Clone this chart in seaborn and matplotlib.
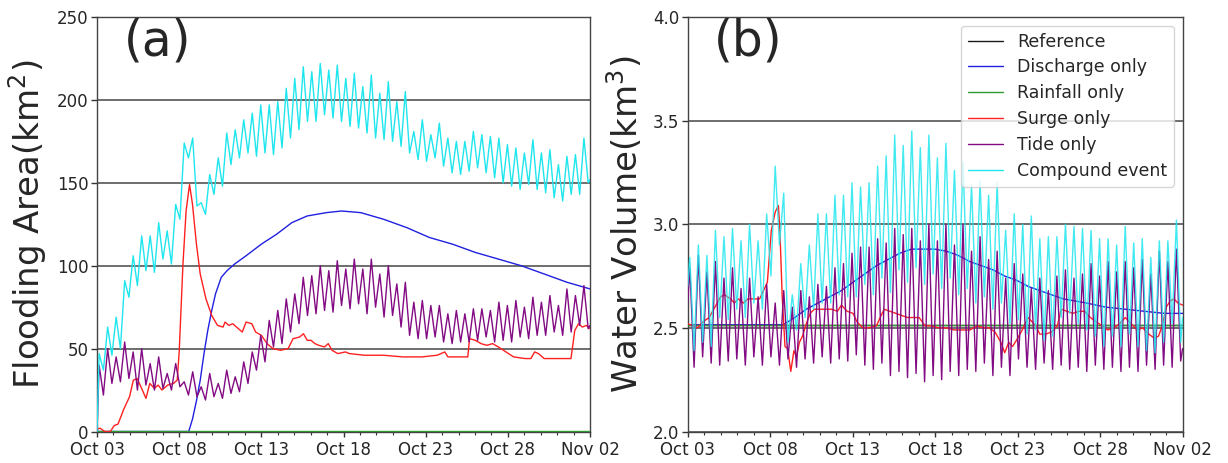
import numpy as np
import pandas as pd
import matplotlib
matplotlib.use("Agg")
import matplotlib.pyplot as plt
import matplotlib.dates as mdates
import matplotlib.ticker as mticker
import seaborn as sns

# ---------------------------------------------------------------------------
# Time axis
# ---------------------------------------------------------------------------
START = pd.Timestamp("2018-10-03")
END = pd.Timestamp("2018-11-02")
SPAN_DAYS = 30.0
FIRST_HIGH = 0.13          # day of the first high water
HALF_TIDE = 0.25875        # 6.21 h between high and low water (days)

scenarios = ["Reference", "Discharge only", "Rainfall only",
             "Surge only", "Tide only", "Compound event"]
palette = {"Reference": "#1a1a1a", "Discharge only": "#2020e0",
           "Rainfall only": "#2f9a2f", "Surge only": "#ff2020",
           "Tide only": "#820a82", "Compound event": "#1fe6ee"}

# ---------------------------------------------------------------------------
# (a) Flooding area, km^2
# ---------------------------------------------------------------------------
ref_a_t = [0.0, 30.0]
ref_a_v = [0.0, 0.0]
rain_a_t = [0.0, 30.0]
rain_a_v = [0.3, 0.3]

discharge_a_t = [0.0, 5.58, 5.81, 6.05, 6.28, 6.51, 6.74, 6.98, 7.21, 7.56, 7.91,
                 8.37, 9.07, 10.0, 10.93, 11.86, 12.79, 13.95, 14.88, 16.05, 17.44,
                 18.84, 20.23, 21.63, 23.02, 24.42, 25.81, 27.21, 28.60, 30.0]
discharge_a_v = [0, 0, 7.5, 18.5, 31, 47, 61, 73, 83, 93, 97,
                 101, 106, 113, 119, 126, 130, 132, 133, 132, 128,
                 123, 117, 113, 108, 104, 100, 95, 90, 86]

surge_a_t = [0.0, 0.19, 0.47, 0.81, 1.05, 1.28, 1.63, 1.98, 2.21, 2.44, 2.67, 2.98,
             3.21, 3.49, 3.72, 3.95, 4.30, 4.65, 4.88, 5.00, 5.23, 5.42, 5.63, 5.81,
             6.05, 6.28, 6.63, 6.98, 7.33, 7.67, 7.79, 8.02, 8.26, 8.49, 8.84, 9.07,
             9.42, 9.65, 10.0, 10.35, 10.70, 11.16, 11.63, 11.93, 12.33, 12.56, 12.79,
             13.02, 13.26, 13.49, 13.84, 14.07, 14.30, 14.65, 15.12, 15.35, 16.28,
             17.44, 18.60, 19.77, 20.70, 20.93, 21.16, 21.35, 22.56, 22.67, 23.02,
             23.37, 23.72, 24.07, 24.42, 24.88, 25.35, 26.05, 26.40, 26.63, 26.86,
             27.21, 28.84, 29.07, 29.30, 29.53, 29.77, 30.0]
surge_a_v = [1.5, 2, 0, 0, 3.6, 4.5, 13.5, 21, 31, 32, 27, 20,
             29, 26, 28, 25, 28, 29, 31, 48, 101, 133, 149, 137,
             113, 95, 80, 70, 64, 63, 66, 64, 65, 63, 60, 66,
             65, 60, 58, 53, 50, 49, 50, 56, 57, 59, 55,
             55, 53, 52, 51, 53, 49, 47, 48, 47, 46,
             46, 45, 45, 46, 47, 48, 45, 45, 56, 55,
             53, 52, 53, 51, 48, 45, 44, 44, 48, 47,
             44, 44, 61, 65, 63, 64, 62]

tide_a_high = [40, 50, 45, 54, 48, 50, 41, 45, 35, 41, 30, 36, 27, 35, 29, 37, 33, 42,
               48, 58, 67, 73, 80, 83, 93, 94, 100, 97, 103, 98, 104, 98, 104, 95,
               100, 89, 90, 78, 79, 76, 76, 71, 73, 71, 74, 74, 73, 78, 76, 79, 75,
               81, 78, 82, 76, 86, 82, 88]
tide_a_low = [22, 29, 30, 32, 25, 28, 25, 26, 25, 27, 22, 21, 19, 21, 20, 23, 24, 29,
              37, 42, 51, 53, 60, 65, 70, 71, 73, 72, 76, 74, 77, 71, 75, 69, 70, 63,
              58, 56, 56, 57, 54, 53, 54, 54, 55, 57, 54, 55, 54, 57, 56, 58, 58, 60,
              58, 60, 64, 62]
tide_a_ends = (0.0, 64.0)

compound_a_high = [47, 63, 69, 91, 106, 118, 118, 126, 121, 137, 174, 177, 138, 155,
                   165, 180, 182, 188, 192, 197, 197, 199, 207, 213, 220, 217, 222,
                   218, 221, 213, 216, 208, 215, 204, 211, 199, 205, 181, 188, 179,
                   186, 177, 175, 175, 181, 179, 178, 177, 173, 171, 168, 176, 168,
                   170, 161, 166, 167, 177]
compound_a_low = [37, 46, 50, 81, 88, 97, 96, 104, 101, 128, 165, 136, 131, 143, 148,
                  161, 165, 168, 166, 168, 167, 171, 177, 182, 187, 187, 191, 189, 187,
                  184, 183, 180, 177, 176, 175, 172, 168, 164, 163, 165, 160, 156, 155,
                  157, 159, 156, 153, 150, 148, 146, 149, 146, 144, 141, 139, 143, 143,
                  150]
compound_a_ends = (0.0, 152.0)

# ---------------------------------------------------------------------------
# (b) Water volume, km^3
# ---------------------------------------------------------------------------
ref_b_t = [0.0, 30.0]
ref_b_v = [2.515, 2.515]
rain_b_t = [0.0, 30.0]
rain_b_v = [2.515, 2.515]

discharge_b_t = [0.0, 5.78, 6.49, 7.19, 7.90, 8.61, 9.32, 10.02, 10.73, 11.44, 12.15,
                 12.85, 13.56, 14.27, 14.98, 15.68, 16.39, 17.10, 17.81, 18.51, 19.22,
                 19.93, 20.64, 21.34, 22.05, 22.76, 23.47, 24.17, 25.35, 26.53, 27.71,
                 28.89, 30.0]
discharge_b_v = [2.515, 2.515, 2.55, 2.59, 2.62, 2.65, 2.68, 2.72, 2.76, 2.80, 2.83,
                 2.86, 2.88, 2.88, 2.88, 2.87, 2.85, 2.82, 2.80, 2.78, 2.75,
                 2.73, 2.70, 2.68, 2.66, 2.64, 2.63, 2.62, 2.60, 2.59, 2.58,
                 2.57, 2.57]

surge_b_t = [0.0, 0.35, 0.59, 0.94, 1.30, 1.65, 2.00, 2.24, 2.59, 2.83, 3.07, 3.37,
             3.66, 4.01, 4.36, 4.60, 4.83, 5.07, 5.31, 5.50, 5.59, 5.73, 5.90, 6.06,
             6.25, 6.44, 6.60, 6.77, 6.96, 7.19, 7.43, 7.67, 8.02, 8.37, 8.73, 9.08,
             9.32, 9.67, 10.02, 10.26, 10.61, 10.97, 11.44, 11.67, 11.91, 12.26, 12.62,
             12.97, 13.33, 13.68, 14.03, 14.39, 14.74, 15.21, 15.68, 16.16, 16.63,
             17.10, 17.57, 17.92, 18.28, 18.63, 18.99, 19.22, 19.46, 19.69, 19.93,
             20.28, 20.64, 20.87, 21.11, 21.34, 21.70, 22.05, 22.41, 22.64, 23.00,
             23.35, 23.70, 24.06, 24.41, 24.76, 25.12, 25.47, 25.83, 26.18, 26.53,
             26.89, 27.24, 27.59, 27.95, 28.30, 28.54, 28.77, 29.01, 29.25, 29.48,
             29.72, 30.0]
surge_b_v = [2.52, 2.51, 2.50, 2.53, 2.55, 2.60, 2.65, 2.66, 2.64, 2.62, 2.64, 2.62,
             2.64, 2.64, 2.64, 2.68, 2.72, 2.97, 3.06, 3.09, 2.97, 2.65, 2.41, 2.40,
             2.29, 2.39, 2.36, 2.43, 2.46, 2.52, 2.57, 2.59, 2.59, 2.59, 2.59, 2.58,
             2.61, 2.58, 2.57, 2.53, 2.50, 2.50, 2.51, 2.55, 2.59, 2.58, 2.57,
             2.56, 2.55, 2.55, 2.55, 2.51, 2.51, 2.50, 2.50, 2.49, 2.49,
             2.49, 2.51, 2.50, 2.50, 2.48, 2.43, 2.38, 2.43, 2.41, 2.44,
             2.49, 2.55, 2.53, 2.51, 2.47, 2.47, 2.48, 2.51, 2.59, 2.58,
             2.57, 2.58, 2.58, 2.55, 2.53, 2.51, 2.49, 2.50, 2.52, 2.55,
             2.52, 2.49, 2.50, 2.47, 2.45, 2.46, 2.51, 2.60, 2.63, 2.64,
             2.62, 2.61]

tide_b_high = [2.79, 2.85, 2.77, 2.82, 2.74, 2.79, 2.69, 2.74, 2.65, 2.71, 2.62, 2.68,
               2.60, 2.68, 2.65, 2.71, 2.70, 2.79, 2.81, 2.86, 2.89, 2.89, 2.93, 2.91,
               2.98, 2.95, 2.98, 2.92, 3.00, 2.92, 3.00, 2.90, 3.00, 2.87, 2.94, 2.83,
               2.87, 2.74, 2.81, 2.76, 2.69, 2.74, 2.68, 2.75, 2.78, 2.74, 2.76, 2.81,
               2.75, 2.82, 2.77, 2.82, 2.79, 2.83, 2.76, 2.87, 2.82, 2.88]
tide_b_low = [2.31, 2.36, 2.33, 2.32, 2.34, 2.35, 2.32, 2.36, 2.32, 2.36, 2.32, 2.35,
              2.31, 2.35, 2.33, 2.36, 2.33, 2.35, 2.34, 2.37, 2.32, 2.30, 2.33, 2.27,
              2.29, 2.26, 2.28, 2.24, 2.27, 2.25, 2.29, 2.27, 2.30, 2.29, 2.33, 2.27,
              2.31, 2.27, 2.35, 2.31, 2.30, 2.33, 2.30, 2.32, 2.30, 2.31, 2.29, 2.32,
              2.30, 2.31, 2.29, 2.31, 2.29, 2.32, 2.30, 2.32, 2.31, 2.34]
tide_b_ends = (2.62, 2.40)

compound_b_high = [2.84, 2.90, 2.85, 2.97, 2.94, 2.98, 2.92, 3.00, 2.92, 3.05, 3.28,
                   3.15, 2.66, 2.81, 2.90, 3.05, 3.05, 3.14, 3.14, 3.20, 3.18, 3.20,
                   3.28, 3.33, 3.43, 3.38, 3.45, 3.37, 3.43, 3.32, 3.39, 3.26, 3.30,
                   3.19, 3.21, 3.14, 3.20, 2.97, 3.05, 3.00, 3.04, 2.93, 2.94, 2.94,
                   3.00, 2.99, 2.98, 2.97, 2.93, 2.93, 2.90, 2.99, 2.91, 2.93, 2.84,
                   2.92, 2.92, 3.02]
compound_b_low = [2.39, 2.43, 2.41, 2.55, 2.54, 2.59, 2.55, 2.62, 2.59, 2.75, 2.90,
                  2.43, 2.49, 2.55, 2.59, 2.62, 2.62, 2.66, 2.65, 2.65, 2.71, 2.66,
                  2.74, 2.67, 2.78, 2.72, 2.79, 2.71, 2.76, 2.69, 2.74, 2.66, 2.69,
                  2.62, 2.65, 2.59, 2.62, 2.52, 2.54, 2.47, 2.49, 2.44, 2.46, 2.55,
                  2.57, 2.52, 2.49, 2.46, 2.41, 2.46, 2.41, 2.47, 2.41, 2.39, 2.38,
                  2.43, 2.52, 2.43]
compound_b_ends = (2.70, 2.55)


def tidal_series(highs, lows, ends):
    """Alternate high / low water values on the semi-diurnal time grid."""
    vals = np.column_stack([highs, lows]).ravel()
    t = np.concatenate([[0.0], FIRST_HIGH + HALF_TIDE * np.arange(vals.size), [SPAN_DAYS]])
    v = np.concatenate([[ends[0]], vals, [ends[1]]])
    return t, v


def panel_frame(series):
    frames = []
    for name, (t, v) in series.items():
        frames.append(pd.DataFrame({
            "time": START + pd.to_timedelta(np.asarray(t, dtype=float), unit="D"),
            "value": np.asarray(v, dtype=float),
            "scenario": name,
        }))
    return pd.concat(frames, ignore_index=True)


df_a = panel_frame({
    "Reference": (ref_a_t, ref_a_v),
    "Discharge only": (discharge_a_t, discharge_a_v),
    "Rainfall only": (rain_a_t, rain_a_v),
    "Surge only": (surge_a_t, surge_a_v),
    "Tide only": tidal_series(tide_a_high, tide_a_low, tide_a_ends),
    "Compound event": tidal_series(compound_a_high, compound_a_low, compound_a_ends),
})
df_b = panel_frame({
    "Reference": (ref_b_t, ref_b_v),
    "Discharge only": (discharge_b_t, discharge_b_v),
    "Rainfall only": (rain_b_t, rain_b_v),
    "Surge only": (surge_b_t, surge_b_v),
    "Tide only": tidal_series(tide_b_high, tide_b_low, tide_b_ends),
    "Compound event": tidal_series(compound_b_high, compound_b_low, compound_b_ends),
})

# ---------------------------------------------------------------------------
# Figure
# ---------------------------------------------------------------------------
sns.set_theme(style="ticks")
plt.rcParams["font.family"] = ["DejaVu Sans"]
plt.rcParams["mathtext.default"] = "regular"

fig = plt.figure(figsize=(12.28, 4.63), dpi=100)
AX_BOTTOM, AX_TOP = 0.068, 0.9633
ax_a = fig.add_axes([0.079, AX_BOTTOM, 0.4015, AX_TOP - AX_BOTTOM])
ax_b = fig.add_axes([0.560, AX_BOTTOM, 0.403, AX_TOP - AX_BOTTOM])

draw_order = {"Reference": 2, "Discharge only": 3, "Rainfall only": 4,
              "Surge only": 5, "Tide only": 6, "Compound event": 7}

major_days = pd.date_range(START, END, freq="5D")
minor_days = pd.date_range(START, END, freq="D")


def draw_panel(ax, df, ylim, yticks, ylabel, tag, alphas):
    for name in scenarios:
        sub = df[df["scenario"] == name]
        sns.lineplot(data=sub, x="time", y="value", ax=ax, color=palette[name],
                     label=name, estimator=None, sort=False, linewidth=1.0,
                     legend=False, zorder=draw_order[name],
                     alpha=alphas.get(name, 1.0))
    ax.set_xlim(START, END)
    ax.set_ylim(*ylim)
    ax.set_yticks(yticks)
    ax.set_xticks(major_days)
    ax.set_xticks(minor_days, minor=True)
    ax.xaxis.set_major_formatter(mdates.DateFormatter("%b %d"))
    ax.set_xlabel("")
    ax.set_ylabel(ylabel, fontsize=24.5, labelpad=6)
    ax.yaxis.grid(True, color="#555555", linewidth=1.2)
    ax.xaxis.grid(False)
    ax.set_axisbelow(True)
    ax.tick_params(axis="y", which="major", labelsize=12, length=4,
                   width=1, color="#333333", pad=2)
    ax.tick_params(axis="x", which="major", labelsize=12, length=3.5,
                   width=1, color="#333333", pad=3.5)
    ax.tick_params(axis="x", which="minor", length=2.5, width=0.8, color="#333333")
    for sp in ax.spines.values():
        sp.set_color("#444444")
        sp.set_linewidth(1.0)
    ax.text(0.122, 0.94, tag, transform=ax.transAxes, fontsize=35,
            ha="center", va="center", zorder=10)


draw_panel(ax_a, df_a, (0, 250), [0, 50, 100, 150, 200, 250],
           "Flooding Area(km$^2$)", "(a)", {})
draw_panel(ax_b, df_b, (2.0, 4.0), [2.0, 2.5, 3.0, 3.5, 4.0],
           "Water Volume(km$^3$)", "(b)", {"Compound event": 0.85})
ax_b.yaxis.set_major_formatter(mticker.FormatStrFormatter("%.1f"))

handles, labels = ax_b.get_legend_handles_labels()
leg = ax_b.legend(handles, labels, loc="upper right", fontsize=12.5,
                  frameon=True, framealpha=0.8, edgecolor="0.8", fancybox=True,
                  labelspacing=0.45, handlelength=2.0, handletextpad=0.8,
                  borderpad=0.4)
leg.set_zorder(20)
for h in leg.get_lines():
    h.set_alpha(1.0)
    h.set_linewidth(1.0)

fig.savefig("out.png", dpi=100)
